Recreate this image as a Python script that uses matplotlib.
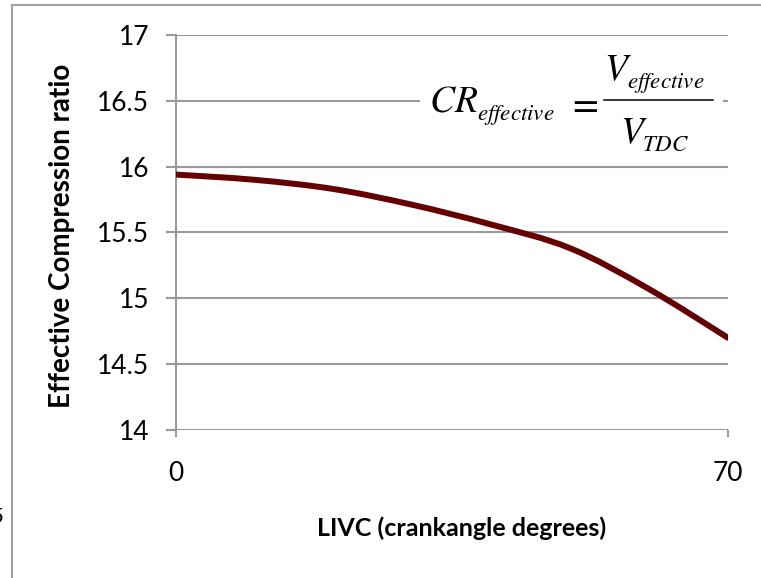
import matplotlib
matplotlib.use("Agg")
import matplotlib.pyplot as plt
from matplotlib.path import Path
from matplotlib.patches import PathPatch, Rectangle
from matplotlib.lines import Line2D
import numpy as np

# LIVC sweep (crank-angle degrees) and resulting effective compression ratio
livc_deg = [0, 10, 20, 30, 40, 50, 60, 70]
cr_effective = [15.94, 15.90, 15.83, 15.71, 15.56, 15.38, 15.07, 14.70]

x_ticks = [0, 70]
y_ticks = [14, 14.5, 15, 15.5, 16, 16.5, 17]
y_tick_labels = ["14", "14.5", "15", "15.5", "16", "16.5", "17"]

W, H, DPI = 761, 578, 100
plt.rcParams["font.family"] = ["Lato", "DejaVu Sans"]
plt.rcParams["mathtext.fontset"] = "stix"

fig = plt.figure(figsize=(W / DPI, H / DPI), dpi=DPI)
fig.patch.set_facecolor("white")


def fx(px):
    return px / W


def fy(py):
    return 1 - py / H


# plot area in pixel units
L, R, T, B = 176, 728, 35, 430
ax = fig.add_axes([L / W, 1 - B / H, (R - L) / W, (B - T) / H])
ax.set_xlim(0, 70)
ax.set_ylim(14, 17)

grid_c = "#9a9a9a"
ax.set_axisbelow(True)
ax.yaxis.grid(True, color=grid_c, linewidth=1.5)
ax.xaxis.grid(False)
for s in ["top", "right", "bottom"]:
    ax.spines[s].set_visible(False)
ax.spines["left"].set_color(grid_c)
ax.spines["left"].set_linewidth(1.5)

ax.set_yticks(y_ticks)
ax.set_yticklabels(y_tick_labels)
ax.set_xticks(x_ticks)
ax.set_xticklabels([str(v) for v in x_ticks])
ax.tick_params(axis="y", direction="out", length=7.2, width=1.5, color=grid_c,
               pad=12, labelsize=19, labelcolor="black")
ax.tick_params(axis="x", direction="out", length=5, width=1.5, color=grid_c,
               pad=17, labelsize=19, labelcolor="black")


def smooth_path(xs, ys):
    """Cubic Bezier path through the points (spreadsheet-style smoothed line)."""
    P = np.column_stack([xs, ys]).astype(float)
    n = len(P)
    verts = [P[0]]
    codes = [Path.MOVETO]
    for i in range(n - 1):
        p0 = P[i - 1] if i > 0 else P[i]
        p1, p2 = P[i], P[i + 1]
        p3 = P[i + 2] if i + 2 < n else P[i + 1]
        c1 = p1 + (p2 - p0) / 6.0
        c2 = p2 - (p3 - p1) / 6.0
        verts += [c1, c2, p2]
        codes += [Path.CURVE4] * 3
    return Path(verts, codes)


curve = PathPatch(smooth_path(livc_deg, cr_effective), fill=False,
                  edgecolor="#640000", linewidth=4.3, capstyle="round",
                  joinstyle="round", zorder=3)
ax.add_patch(curve)

# formula panel with white backing over the grid
bx0, bx1, by0, by1 = 420, 723, 45, 160
ax.add_patch(Rectangle(((bx0 - L) / (R - L), (B - by1) / (B - T)),
                       (bx1 - bx0) / (R - L), (by1 - by0) / (B - T),
                       transform=ax.transAxes, facecolor="white",
                       edgecolor="none", zorder=1))
big, small = 27, 16.5


def formula_piece(x, y, s, size, ha="left", va="baseline"):
    fig.text(fx(x), fy(y), s, ha=ha, va=va, fontsize=size, zorder=4)


formula_piece(429, 112, r"$CR$", big)
formula_piece(477, 120, r"$effective$", small)
formula_piece(582.5, 100.5, r"$=$", big, ha="center", va="center_baseline")
fig.add_artist(Line2D([fx(604), fx(713)], [fy(100.5), fy(100.5)],
                      color="black", linewidth=1.1,
                      transform=fig.transFigure, zorder=4))
formula_piece(604, 80, r"$V$", big)
formula_piece(627, 88, r"$effective$", small)
formula_piece(620, 143, r"$V$", big)
formula_piece(642, 151, r"$TDC$", small)

fig.text(fx(62), fy(236), "Effective Compression ratio", rotation=90,
         ha="center", va="center", fontsize=20, fontweight="bold")
fig.text(fx(462), fy(528), "LIVC (crankangle degrees)", ha="center",
         va="center", fontsize=18, fontweight="bold")

# outer frame
frame_c = "#a0a0a0"
fig.add_artist(Line2D([fx(12), 1], [fy(5), fy(5)], color=frame_c,
                      linewidth=1.5, transform=fig.transFigure))
fig.add_artist(Line2D([fx(12), fx(12)], [fy(5), 0], color=frame_c,
                      linewidth=1.5, transform=fig.transFigure))
fig.text(fx(4), fy(517), "5", ha="right", va="center", fontsize=16)

fig.savefig("out.png", dpi=DPI, facecolor="white")
